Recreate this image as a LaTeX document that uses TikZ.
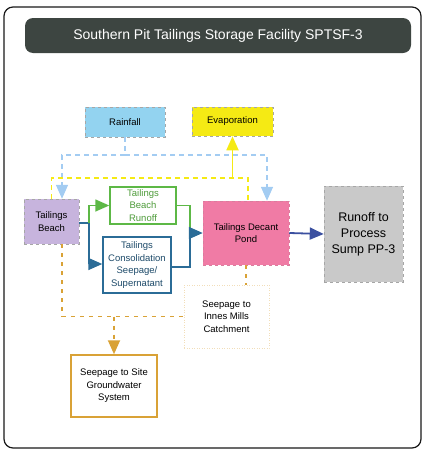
\documentclass[tikz,border=0pt]{standalone}
\usepackage{fontspec}
\setmainfont{Liberation Sans}
\usepackage{tikz}
\usetikzlibrary{positioning, arrows.meta, backgrounds}
\tikzset{>=latex}

\definecolor{titlegray}{HTML}{3D4541}
\definecolor{rainblue}{HTML}{93D3F0}
\definecolor{rainline}{HTML}{A3CCF2}
\definecolor{evapyellow}{HTML}{F5EA14}
\definecolor{beachlilac}{HTML}{C7B4DD}
\definecolor{runoffgreen}{HTML}{5DB846}
\definecolor{consblue}{HTML}{2B6C97}
\definecolor{pondpink}{HTML}{F07BA5}
\definecolor{pondarrow}{HTML}{3B50A0}
\definecolor{sumpgray}{HTML}{C9C9C9}
\definecolor{seepgold}{HTML}{D9A236}

\tikzset{
    flowbox/.style={draw=gray!70, dashed, line width=0.5pt, align=center,
        font=\fontsize{9.5}{12.5}\selectfont, inner sep=2pt},
    bigtip/.style={-{Triangle[length=14pt,width=12pt]}},
    rainpath/.style={draw=rainline, dash pattern=on 5pt off 4pt, line width=1.6pt},
    evappath/.style={draw=evapyellow, dash pattern=on 5pt off 4pt, line width=1.8pt},
    runpath/.style={draw=runoffgreen, line width=1.6pt},
    conspath/.style={draw=consblue, line width=1.6pt},
    seeppath/.style={draw=seepgold, dash pattern=on 4pt off 5pt, line width=1.8pt},
}

\begin{document}
\begin{tikzpicture}[x=1pt, y=-1pt]
    \useasboundingbox (0,0) rectangle (423,450);
    \draw[gray!20!black, line width=1.2pt, rounded corners=9pt] (4,7) rectangle (421,448);

    \node[fill=titlegray, rounded corners=8pt, minimum width=386pt, minimum height=35pt,
        text=white, font=\fontsize{14}{16}\selectfont] (title) at (218,35.5)
        {Southern Pit Tailings Storage Facility SPTSF-3};

    % boxes
    \node[flowbox, fill=rainblue, minimum width=80pt, minimum height=30pt] (rain) at (125,122) {Rainfall};
    \node[flowbox, fill=evapyellow, minimum width=81pt, minimum height=29pt] (evap) at (232.5,121.5) {Evaporation};
    \node[flowbox, fill=beachlilac, minimum width=55pt, minimum height=45pt] (beach) at (51.5,221.5) {Tailings\\Beach};
    \node[flowbox, solid, draw=runoffgreen, line width=1.5pt, text=runoffgreen!85!black, fill=white,
        minimum width=66pt, minimum height=37pt] (runoff) at (143,205.5) {Tailings\\Beach\\Runoff};
    \node[flowbox, solid, draw=consblue, line width=1.5pt, text=consblue!70!black, fill=white,
        minimum width=68pt, minimum height=56pt] (consol) at (137,265) {Tailings\\Consolidation\\Seepage/\\Supernatant};
    \node[flowbox, draw=pondpink!80!gray, fill=pondpink, minimum width=86pt, minimum height=64pt] (pond) at (246,233) {Tailings Decant\\Pond};
    \node[flowbox, fill=sumpgray, minimum width=79pt, minimum height=96pt,
        font=\fontsize{12.5}{16}\selectfont] (sump) at (363.5,234) {Runoff to\\Process\\Sump PP-3};
    \node[flowbox, dotted, draw=seepgold!35, fill=white, minimum width=85pt, minimum height=63pt] (innes) at (226.5,316.5) {Seepage to\\Innes Mills\\Catchment};
    \node[flowbox, solid, draw=seepgold, line width=1.5pt, fill=white, minimum width=86pt, minimum height=62pt] (ground) at (114,386) {Seepage to Site\\Groundwater\\System};

    % rainfall
    \coordinate (rj) at (125,155);
    \draw[rainpath] (rain.south) -- (rj);
    \draw[rainpath, bigtip, rainline] (rj) -| ([xshift=10.5pt]beach.north);
    \draw[rainpath, bigtip, rainline] (rj) -| ([xshift=21pt]pond.north);

    % evaporation
    \coordinate (ej) at (232.5,178);
    \draw[evappath] (beach.north) |- (ej) -| ([xshift=2pt]pond.north);
    \draw[evapyellow, line width=1.8pt, bigtip] (ej) -- (evap.south);

    % beach to runoff / consolidation
    \coordinate (bj) at (89,223);
    \draw[conspath] (beach.east |- bj) -- (bj);
    \draw[runpath, bigtip, runoffgreen] (bj) |- (runoff.west);
    \draw[conspath, bigtip, consblue] (bj) |- ([yshift=1pt]consol.west);

    % into decant pond
    \coordinate (pj) at (190,233);
    \draw[runpath] (runoff.east) -| (pj);
    \draw[conspath] ([yshift=-2pt]consol.east) -| (pj);
    \draw[conspath, bigtip, consblue] (pj) -- (pond.west);
    \draw[pondarrow, line width=1.8pt, bigtip] (pond.east) -- (sump.west);

    % seepage
    \draw[seeppath] (pond.south) -- (pond.south |- innes.north);
    \coordinate (gj) at (114,316.5);
    \draw[seeppath] ([xshift=10.5pt]beach.south) |- (innes.west);
    \draw[seeppath, bigtip, seepgold] (gj) -- (ground.north);
\end{tikzpicture}
\end{document}
